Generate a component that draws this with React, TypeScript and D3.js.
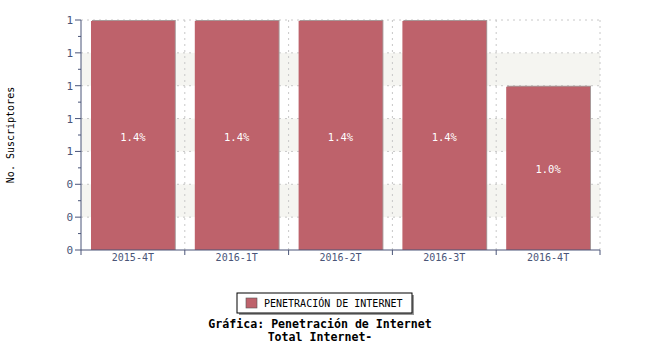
import React from "react";
import * as d3 from "d3";

const categories = ["2015-4T", "2016-1T", "2016-2T", "2016-3T", "2016-4T"];
const values = [1.4, 1.4, 1.4, 1.4, 1.0];
const valueLabels = ["1.4%", "1.4%", "1.4%", "1.4%", "1.0%"];
const yTicks = [0, 0.2, 0.4, 0.6, 0.8, 1.0, 1.2, 1.4];
const seriesName = "PENETRACIÓN DE INTERNET";
const titleLines = ["Gráfica: Penetración de Internet", "Total Internet-"];
const yTitle = "No. Suscriptores";

const W = 650, H = 350;
const left = 81, right = 600, top = 20, bottom = 250;
const font = "'DejaVu Sans Mono', monospace";
const barColor = "#be626b";
const axisColor = "#4a5578";

export default function App() {
  const x = d3.scaleBand<string>().domain(categories).range([left, right]).paddingInner(0).paddingOuter(0);
  const y = d3.scaleLinear().domain([0, 1.4]).range([bottom, top]);
  const bw = x.bandwidth();
  const pad = 10;
  const bands = d3.range(yTicks.length - 1).filter((i) => i % 2 === 1);
  const minor = d3.range(yTicks.length - 1).map((i) => (yTicks[i] + yTicks[i + 1]) / 2);
  const boundaries = categories.map((c) => x(c)!).concat([right]);

  return (
    <svg width={W} height={H} style={{ position: "absolute", left: 0, top: 0 }} fontFamily={font}>
      <rect x={0} y={0} width={W} height={H} fill="#fff" />
      {bands.map((i) => (
        <rect key={"b" + i} x={left} y={y(yTicks[i + 1])} width={right - left} height={y(yTicks[i]) - y(yTicks[i + 1])} fill="#f5f5f1" />
      ))}
      {yTicks.slice(1).map((t, i) => (
        <line key={"h" + i} x1={left} x2={right} y1={y(t)} y2={y(t)} stroke="#c8c8c8" strokeDasharray="2,4" />
      ))}
      {boundaries.slice(1).map((bx, i) => (
        <line key={"v" + i} x1={bx} x2={bx} y1={top} y2={bottom} stroke="#c8c8c8" strokeDasharray="2,4" />
      ))}
      {categories.map((c, i) => {
        const x0 = x(c)! + pad;
        const w = bw - 2 * pad;
        const yt = y(values[i]);
        return (
          <g key={"bar" + i}>
            <rect x={x0 + 1} y={yt} width={w} height={bottom - yt} fill="#a89898" />
            <rect x={x0} y={yt + 1} width={w} height={bottom - yt - 1} fill={barColor} />
            <text x={x0 + w / 2} y={(yt + bottom) / 2 + 5.5} textAnchor="middle" fontSize={10.5} fill="#fff">
              {valueLabels[i]}
            </text>
          </g>
        );
      })}
      {/* y axis */}
      <line x1={left} x2={left} y1={top} y2={bottom} stroke={axisColor} />
      {yTicks.map((t, i) => (
        <g key={"yt" + i}>
          <line x1={left - 6} x2={left} y1={y(t)} y2={y(t)} stroke={axisColor} />
          <text x={left - 8} y={y(t) + 4} textAnchor="end" fontSize={11} fill={axisColor}>
            {d3.format(".0f")(t)}
          </text>
        </g>
      ))}
      {minor.map((t, i) => (
        <line key={"mt" + i} x1={left - 3} x2={left} y1={y(t)} y2={y(t)} stroke={axisColor} />
      ))}
      {/* x axis */}
      <line x1={left} x2={right} y1={bottom} y2={bottom} stroke={axisColor} />
      {boundaries.map((bx, i) => (
        <line key={"xt" + i} x1={bx} x2={bx} y1={bottom} y2={bottom + 5} stroke={axisColor} />
      ))}
      {categories.map((c, i) => (
        <text key={"xl" + i} x={x(c)! + bw / 2} y={bottom + 10.5} textAnchor="middle" fontSize={10} fill={axisColor}>
          {c}
        </text>
      ))}
      <text transform={`translate(13.5,${(top + bottom) / 2}) rotate(-90)`} textAnchor="middle" fontSize={10} fill="#000">
        {yTitle}
      </text>
      {/* legend */}
      <rect x={239} y={295} width={175} height={20} fill="#999" />
      <rect x={237} y={293} width={175} height={20} fill="#fff" stroke="#000" />
      <rect x={246} y={298} width={11} height={10} fill={barColor} stroke="#555" strokeWidth={0.6} />
      <text x={264} y={307} fontSize={10} fill="#000">{seriesName}</text>
      {titleLines.map((t, i) => (
        <text key={"t" + i} x={320} y={328 + i * 13} textAnchor="middle" fontSize={11.6} fontWeight="bold" fill="#000">
          {t}
        </text>
      ))}
    </svg>
  );
}
